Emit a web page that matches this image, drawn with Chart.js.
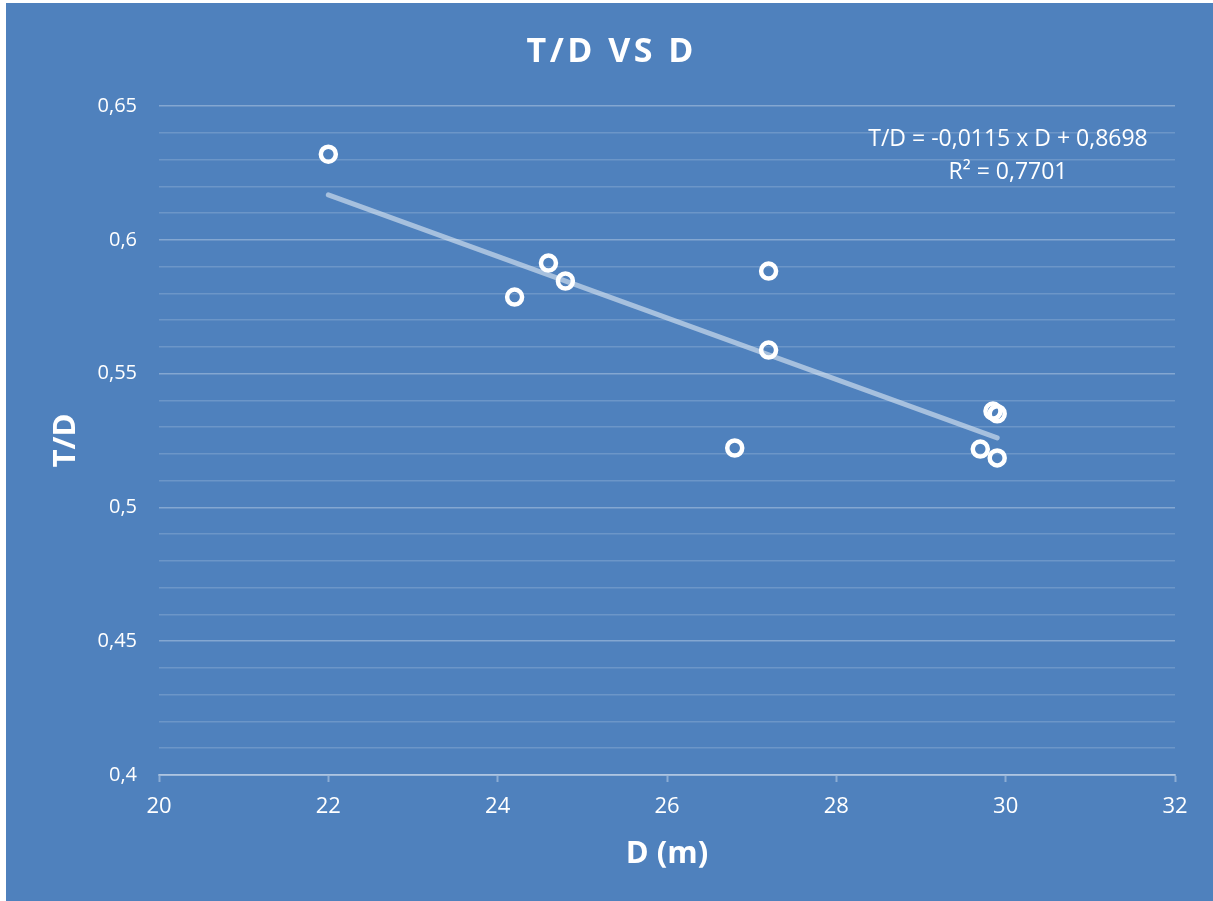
<!DOCTYPE html>
<html>
<head>
<meta charset="utf-8">
<script src="https://cdn.jsdelivr.net/npm/chart.js@4/dist/chart.umd.min.js"></script>
<style>
  html, body { margin: 0; padding: 0; background: #ffffff; }
  #wrap { position: absolute; left: 6px; top: 3px; width: 1207px; height: 898px; background: #4f81bd; }
  canvas { display: block; }
</style>
</head>
<body>
<div id="wrap"><canvas id="c" width="1207" height="898"></canvas></div>
<script>
// Measurements: diameter D (m) and ratio T/D
const dValues  = [22.0, 24.2, 24.6, 24.8, 27.2, 27.2, 26.8, 29.7, 29.9, 29.85, 29.9];
const tdValues = [0.632, 0.5786, 0.5913, 0.5846, 0.5883, 0.5588, 0.5222, 0.5218, 0.5185, 0.5360, 0.5350];

// Linear fit as reported on the chart
const fitSlope = -0.0115;
const fitIntercept = 0.8698;
const fitR2 = 0.7701;
const fitRange = [22.0, 29.9];

// Axis ticks
const xTicks = [20, 22, 24, 26, 28, 30, 32];
const yMajorTicks = [0.4, 0.45, 0.5, 0.55, 0.6, 0.65];

const chartTitle = 'T/D VS D';
const xTitle = 'D (m)';
const yTitle = 'T/D';

const fmt = (v) => String(Math.round(v * 100) / 100).replace('.', ',');
const num = (v) => v.toFixed(4).replace('.', ',');
const isMajor = (v) => yMajorTicks.some(t => Math.abs(t - v) < 1e-6);

const points = dValues.map((d, i) => ({ x: d, y: tdValues[i] }));
const fitLine = fitRange.map(d => ({ x: d, y: fitSlope * d + fitIntercept }));

const FONT = "'Open Sans', sans-serif";

// Letter-spaced tick labels and chart texts drawn on the canvas
const decor = {
  id: 'decor',
  afterLayout(chart) {
    const spaced = (scale, px) => {
      if (scale._spaced) return;
      const orig = scale.draw;
      scale.draw = function (area) {
        const ctx = this.ctx;
        ctx.save();
        ctx.letterSpacing = px;
        orig.call(this, area);
        ctx.restore();
      };
      scale._spaced = true;
    };
    spaced(chart.scales.y, '1px');
    spaced(chart.scales.x, '1px');
  },
  afterDraw(chart) {
    const ctx = chart.ctx;
    ctx.save();
    ctx.fillStyle = '#ffffff';
    ctx.textAlign = 'center';
    ctx.textBaseline = 'alphabetic';
    // chart title
    ctx.font = `bold 34px ${FONT}`;
    ctx.letterSpacing = '3.5px';
    ctx.fillText(chartTitle, 604 + 1.75, 59);
    // regression equation
    ctx.letterSpacing = '0px';
    ctx.font = `23px ${FONT}`;
    const sign = fitIntercept >= 0 ? '+' : '-';
    ctx.fillText(`T/D = ${num(fitSlope)} x D ${sign} ${num(Math.abs(fitIntercept))}`, 1002, 143);
    ctx.fillText(`R² = ${num(fitR2)}`, 1002, 176);
    ctx.restore();
  }
};

new Chart(document.getElementById('c'), {
  type: 'scatter',
  data: {
    datasets: [
      {
        label: 'T/D',
        data: points,
        showLine: false,
        pointRadius: 7.5,
        pointBorderWidth: 4.5,
        pointBorderColor: '#ffffff',
        pointBackgroundColor: 'rgba(0,0,0,0)',
        order: 1
      },
      {
        label: 'fit',
        data: fitLine,
        showLine: true,
        borderColor: 'rgba(220,230,242,0.62)',
        borderWidth: 5,
        borderCapStyle: 'round',
        pointRadius: 0,
        order: 2
      }
    ]
  },
  options: {
    responsive: false,
    animation: false,
    events: [],
    layout: { padding: { top: 103, right: 38, left: 0, bottom: 0 } },
    plugins: {
      legend: { display: false },
      title: { display: false },
      tooltip: { enabled: false }
    },
    scales: {
      x: {
        type: 'linear',
        min: xTicks[0],
        max: xTicks[xTicks.length - 1],
        afterFit(scale) { scale.height = 126; },
        afterBuildTicks(scale) { scale.ticks = xTicks.map(v => ({ value: v })); },
        ticks: {
          autoSkip: false,
          maxRotation: 0,
          padding: 12,
          color: '#ffffff',
          font: { family: FONT, size: 22 },
          callback: (v) => String(v)
        },
        grid: {
          drawOnChartArea: false,
          drawTicks: true,
          tickLength: 7,
          tickWidth: 2,
          tickColor: 'rgba(255,255,255,0.35)'
        },
        border: { display: true, color: 'rgba(255,255,255,0.35)', width: 2 },
        title: {
          display: true,
          text: xTitle,
          color: '#ffffff',
          font: { family: FONT, size: 31, weight: 'bold' },
          padding: { top: 0, bottom: 28 }
        }
      },
      y: {
        type: 'linear',
        min: 0.4,
        max: 0.65,
        afterFit(scale) { scale.width = 153; },
        ticks: {
          stepSize: 0.01,
          autoSkip: false,
          padding: 22,
          color: '#ffffff',
          font: { family: FONT, size: 20 },
          callback: (v) => isMajor(v) ? fmt(v) : ''
        },
        grid: {
          drawTicks: false,
          lineWidth: 1.5,
          color: (c) => (c.tick && isMajor(c.tick.value)) ? 'rgba(255,255,255,0.3)' : 'rgba(255,255,255,0.17)'
        },
        border: { display: false },
        title: {
          display: true,
          text: yTitle,
          color: '#ffffff',
          font: { family: FONT, size: 31, weight: 'bold' },
          padding: { top: 42, bottom: 0 }
        }
      }
    }
  },
  plugins: [decor]
});
</script>
</body>
</html>
